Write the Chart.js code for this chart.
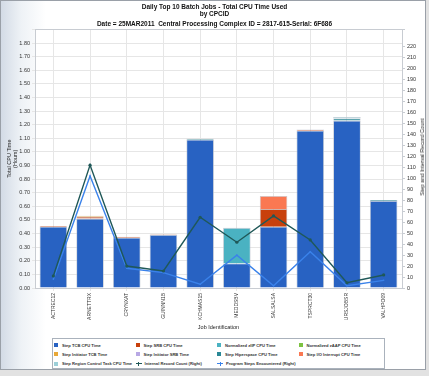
<!DOCTYPE html>
<html><head><meta charset="utf-8">
<script src="https://cdn.jsdelivr.net/npm/chart.js@4"></script>
<style>
html,body{margin:0;padding:0;width:429px;height:376px;overflow:hidden;background:#e2e2e2;}
#frame{position:absolute;left:0;top:0;width:424px;height:368px;border:1px solid #9aa0a8;background:linear-gradient(to right,#d3dbe6 0px,#eef2f6 20px,#ffffff 45px);}
#c{position:absolute;left:0;top:0;}
#rtitle{position:absolute;left:421.5px;top:157px;transform:translate(-50%,-50%) rotate(-90deg);white-space:nowrap;font:5.5px 'Liberation Sans Narrow','Liberation Sans',Arial,sans-serif;color:#222;}
#legend{position:absolute;left:52px;top:338px;width:331px;height:29px;border:1px solid #aab2bc;background:#fff;}
.li{position:absolute;height:8px;display:flex;align-items:center;white-space:nowrap;font:600 4.1px 'Liberation Sans Narrow','Liberation Sans',Arial,sans-serif;color:#333;}
.sw{width:4px;height:4px;margin-right:4px;flex:none;}
.ln{width:6px;height:6px;margin-right:3px;flex:none;position:relative;}
</style></head>
<body>
<div id="frame"></div>
<canvas id="c" width="429" height="376"></canvas>
<div id="rtitle">Step and Interval Record Count</div>
<div id="legend"></div>
<script>
const categories = ['ACTREC12','ARNETTRX','CRYNXAT','GUINNN1B','KCHMAS15','MEDDSBV','SALSALSA','TSPRCT30','URSJOBSR','VALHPO09'];
const stepTcbCpu      = [0.450, 0.510, 0.370, 0.390, 1.090, 0.180, 0.450, 1.155, 1.230, 0.640];
const stepSrbCpu      = [0.006, 0.014, 0.006, 0.004, 0.000, 0.000, 0.130, 0.010, 0.000, 0.000];
const normZiipCpu     = [0, 0, 0, 0, 0, 0.262, 0, 0, 0, 0];
const normZaapCpu     = [0, 0, 0, 0, 0, 0, 0, 0, 0, 0];
const stepInitTcb     = [0, 0.006, 0, 0, 0, 0, 0, 0, 0, 0];
const stepInitSrb     = [0, 0, 0, 0, 0, 0, 0, 0, 0, 0];
const stepHiperCpu    = [0, 0, 0, 0, 0.006, 0, 0, 0, 0.016, 0.006];
const stepIoIntCpu    = [0, 0, 0, 0, 0, 0, 0.096, 0, 0, 0];
const stepRegionCtl   = [0, 0, 0, 0, 0, 0, 0, 0, 0.010, 0];
const internalRecords = [11, 112, 20, 15.5, 64.5, 41.7, 65.7, 43.8, 4.8, 11.9];
const programSteps    = [8, 102, 18, 14, 3.4, 30, 2, 33, 2, 7];
const leftTicksMax = 1.9;
const rightTicksMax = 235.7;

const FONT = "'Liberation Sans Narrow','Liberation Sans',Arial,sans-serif";
Chart.defaults.font.family = FONT;
Chart.defaults.color = '#333';

const barDefs = [
  ['Step TCB CPU Time', stepTcbCpu, '#2862c2'],
  ['Step SRB CPU Time', stepSrbCpu, '#c8400c'],
  ['Normalized zIIP CPU Time', normZiipCpu, '#4ab2c2'],
  ['Normalized zAAP CPU Time', normZaapCpu, '#7cc242'],
  ['Step Initiator TCB Time', stepInitTcb, '#e8a838'],
  ['Step Initiator SRB Time', stepInitSrb, '#b8a8e4'],
  ['Step Hiperspace CPU Time', stepHiperCpu, '#2a8896'],
  ['Step I/O Interrupt CPU Time', stepIoIntCpu, '#fa7852'],
  ['Step Region Control Task CPU Time', stepRegionCtl, '#9ccfd8']
];
const lineDefs = [
  ['Internal Record Count (Right)', internalRecords, '#1f5858', 1.6],
  ['Program Steps Encountered (Right)', programSteps, '#3a82ea', 0.8]
];

const datasets = [];
lineDefs.forEach(([label, data, color, pr]) => datasets.push({
  type:'line', label, data, yAxisID:'y1', order:0,
  borderColor:color, backgroundColor:color, borderWidth:1.4,
  pointRadius:pr, pointBackgroundColor:color, pointBorderWidth:0, tension:0
}));
barDefs.forEach(([label, data, color]) => datasets.push({
  type:'bar', label, data, yAxisID:'y', order:1, stack:'cpu',
  backgroundColor:color, borderColor:'rgba(190,196,206,0.9)', borderWidth:0.8,
  barPercentage:0.75, categoryPercentage:1.0
}));

const bgPlugin = {
  id:'bg',
  beforeDraw(chart){
    const {ctx, chartArea:a} = chart;
    ctx.save(); ctx.fillStyle='#fff'; ctx.fillRect(a.left,a.top,a.right-a.left,a.bottom-a.top); ctx.restore();
  },
  afterDraw(chart){
    const {ctx, chartArea:a} = chart;
    ctx.save(); ctx.strokeStyle='#c8ccd2'; ctx.lineWidth=1;
    ctx.strokeRect(Math.round(a.left)+0.5, Math.round(a.top)+0.5, Math.round(a.right-a.left), Math.round(a.bottom-a.top));
    ctx.restore();
  }
};

const chart = new Chart(document.getElementById('c'), {
  type:'bar',
  data:{labels:categories, datasets},
  plugins:[bgPlugin],
  options:{
    responsive:false, animation:false, devicePixelRatio:1,
    layout:{padding:{left:0,right:0,top:0,bottom:40}},
    plugins:{
      legend:{display:false}, tooltip:{enabled:false},
      title:{display:true, text:['Daily Top 10 Batch Jobs - Total CPU Time Used','by CPCID'], color:'#111',
        font:{size:6.5, weight:'bold', lineHeight:1.15}, padding:{top:3,bottom:0}},
      subtitle:{display:true, text:'Date = 25MAR2011  Central Processing Complex ID = 2817-615-Serial: 6F686', color:'#111',
        font:{size:6.5, weight:'bold', lineHeight:1.15}, padding:{top:3,bottom:1}}
    },
    scales:{
      x:{stacked:true,
        grid:{offset:false, color:'#e6e6e6', tickLength:3},
        border:{color:'#c8ccd2'},
        ticks:{minRotation:90, maxRotation:90, autoSkip:false, font:{size:5}, color:'#333', padding:2},
        title:{display:true, text:'Job Identification', font:{size:5.5}, color:'#222', padding:{top:0,bottom:5}},
        afterFit(s){ s.height = 48; }
      },
      y:{stacked:true, position:'left', min:0, max:leftTicksMax,
        grid:{color:'#e6e6e6', tickLength:3},
        border:{color:'#c8ccd2'},
        ticks:{stepSize:0.1, font:{size:5.5}, color:'#333', padding:2,
          callback:(v,i,t)=> i===t.length-1 ? '' : Number(v).toFixed(2)},
        title:{display:true, text:['Total CPU Time','(Hours)'], font:{size:5.5, lineHeight:1.1}, color:'#222', padding:{top:6,bottom:0}},
        afterFit(s){ s.width = 35; }
      },
      y1:{position:'right', min:0, max:rightTicksMax,
        grid:{drawOnChartArea:false, tickLength:3, color:'#c8ccd2'},
        border:{color:'#c8ccd2'},
        ticks:{stepSize:10, font:{size:5.5}, color:'#333', padding:2,
          callback:(v,i,t)=> i===t.length-1 ? '' : String(Math.round(v))},
        afterFit(s){ s.width = 27; }
      }
    }
  }
});

// HTML legend built from the datasets
const legend = document.getElementById('legend');
const order = [...barDefs.map(d=>d[0]), ...lineDefs.map(d=>d[0])];
order.forEach((label, i) => {
  const ds = chart.data.datasets.find(d => d.label === label);
  const col = i % 4, row = Math.floor(i / 4);
  const el = document.createElement('div');
  el.className = 'li';
  el.style.left = (1 + col * 81.5) + 'px';
  el.style.top = (2 + row * 9.3) + 'px';
  if (ds.type === 'line') {
    const m = document.createElement('span');
    m.className = 'ln';
    m.innerHTML = `<span style="position:absolute;left:0;top:2.5px;width:6px;height:1px;background:${ds.borderColor}"></span><span style="position:absolute;left:2.5px;top:1px;width:1px;height:4px;background:${ds.borderColor}"></span>`;
    el.appendChild(m);
  } else {
    const m = document.createElement('span');
    m.className = 'sw';
    m.style.background = ds.backgroundColor;
    el.appendChild(m);
  }
  const t = document.createElement('span');
  t.textContent = label;
  el.appendChild(t);
  legend.appendChild(el);
});
</script>
</body></html>
